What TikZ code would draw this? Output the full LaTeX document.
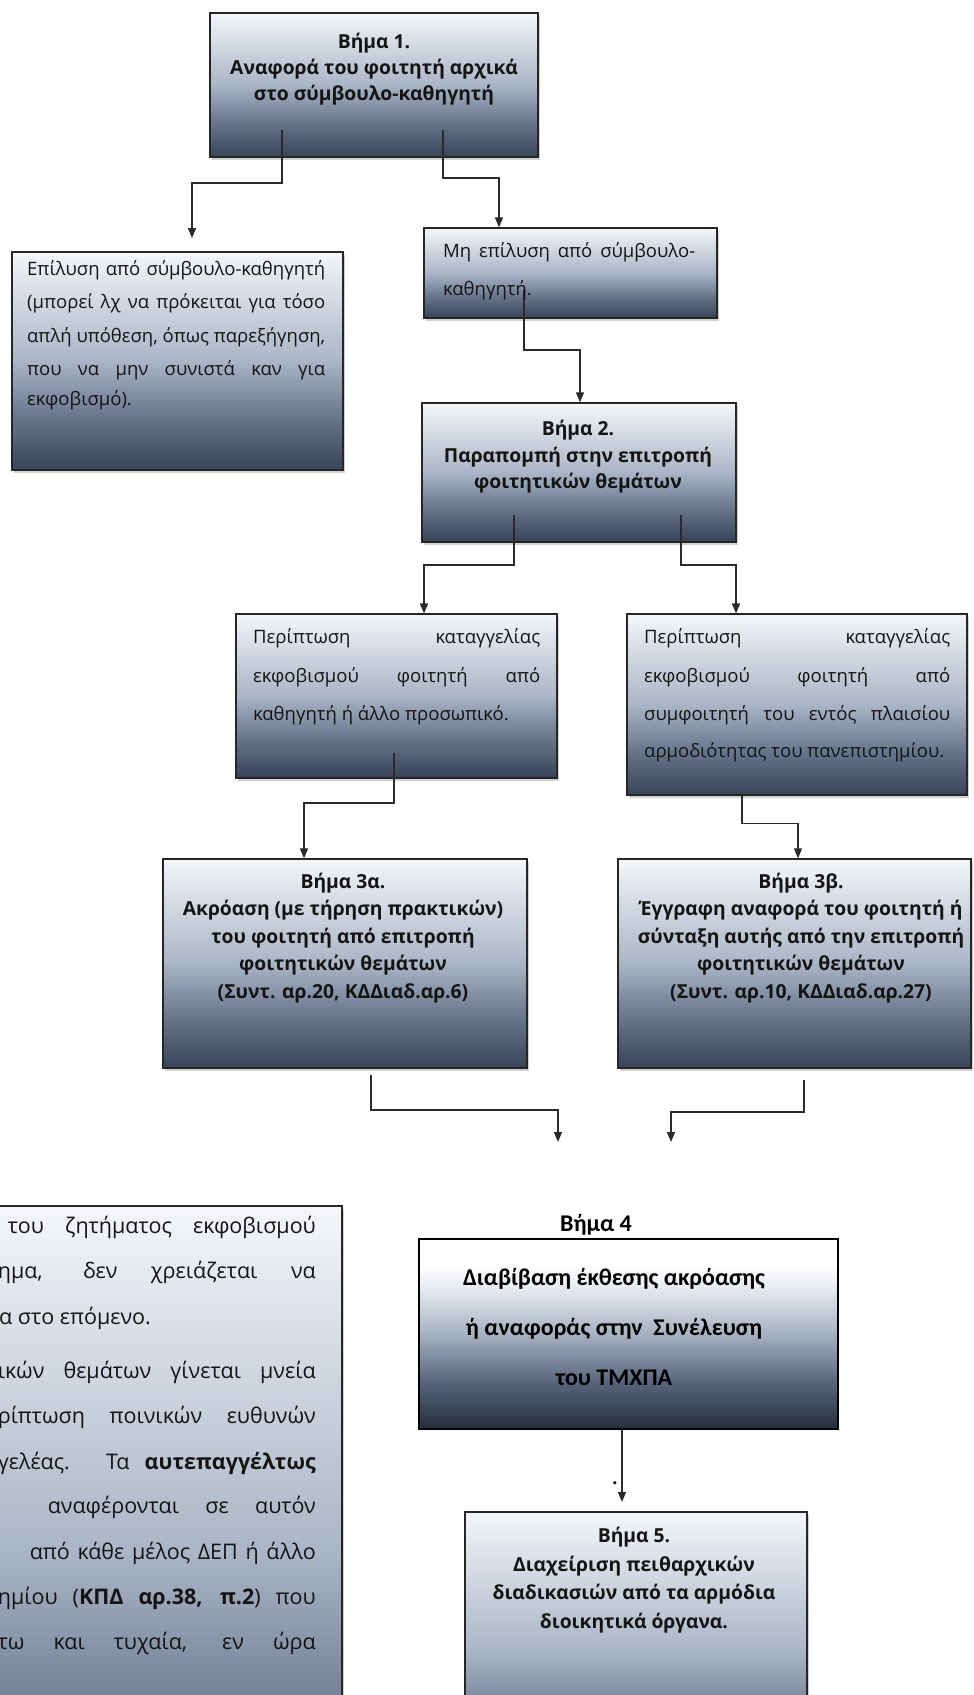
\documentclass[tikz,border=0pt]{standalone}
\usepackage{fontspec}
\usepackage{graphicx}
\setmainfont{Open Sans}
\newfontfamily\calfont{Carlito}
\usetikzlibrary{arrows.meta,shadows}

\definecolor{stop}{HTML}{F4F6F9}
\definecolor{smid}{HTML}{AAB5C6}
\definecolor{smid2}{HTML}{67758B}
\definecolor{sbot}{HTML}{374357}
\definecolor{fmid}{HTML}{A6B1C1}
\definecolor{fmid2}{HTML}{55637A}
\definecolor{fbot}{HTML}{252E3B}
\definecolor{fpale}{HTML}{E6EAF0}
\definecolor{bordc}{HTML}{262626}
\definecolor{linec}{HTML}{2A2A2A}
\definecolor{txtc}{HTML}{141414}

\pgfdeclareverticalshading{stepshade}{100bp}{color(0bp)=(sbot); color(25bp)=(sbot); color(37bp)=(smid2); color(50bp)=(smid); color(75bp)=(stop); color(100bp)=(stop)}
\pgfdeclareverticalshading{fourshade}{100bp}{color(0bp)=(fbot); color(25bp)=(fbot); color(37bp)=(fmid2); color(50bp)=(fmid); color(62bp)=(fpale); color(68bp)=(white); color(100bp)=(white)}

\newsavebox\linebox
\newcommand\fitw[2]{\sbox\linebox{#2}\ifdim\wd\linebox>#1\relax\resizebox{#1}{\height}{\usebox\linebox}\else\makebox[#1][s]{#2}\fi}

\tikzset{
  stepbox/.style={draw=bordc, line width=1.3pt, shading=stepshade, rectangle, inner sep=0pt,
    drop shadow={shadow xshift=2pt, shadow yshift=-2.5pt, opacity=0.18, fill=black}},
  fourbox/.style={draw=black, line width=2.4pt, shading=fourshade, rectangle, inner sep=0pt},
  conn/.style={draw=linec, line width=1.4pt, -{Triangle[width=8pt,length=10pt]}},
  btxt/.style={align=center, inner sep=0pt, text=txtc},
  boldtxt/.style={btxt, font=\fontsize{19.3}{#1}\selectfont\bfseries},
  rline/.style={anchor=base west, inner sep=0pt, text=txtc, font=\fontsize{18.5}{21}\selectfont},
  nline/.style={anchor=base east, inner sep=0pt, text=txtc, font=\fontsize{21.5}{24}\selectfont},
}

\begin{document}
\begin{tikzpicture}[x=1pt,y=-1pt]
\useasboundingbox (0,0) rectangle (974,1695);
\fill[white] (0,0) rectangle (974,1695);

% boxes
\node[stepbox, minimum width=328pt, minimum height=144pt] (b1) at (374,85) {};
\node[stepbox, minimum width=331pt, minimum height=218pt] (bL) at (177.5,361) {};
\node[stepbox, minimum width=293pt, minimum height=90pt] (bM) at (570.5,273) {};
\node[stepbox, minimum width=314pt, minimum height=139pt] (b2) at (579,472.5) {};
\node[stepbox, minimum width=321pt, minimum height=164pt] (b2a) at (396.5,696) {};
\node[stepbox, minimum width=340pt, minimum height=181pt] (b2b) at (797,704.5) {};
\node[stepbox, minimum width=364pt, minimum height=209pt] (b3a) at (345,963.5) {};
\node[stepbox, minimum width=353pt, minimum height=209pt] (b3b) at (794.5,963.5) {};
\node[stepbox, minimum width=372pt, minimum height=694pt] (bN) at (156,1553) {};
\node[fourbox, minimum width=419pt, minimum height=190pt] (b4) at (628.5,1334) {};
\node[stepbox, minimum width=342pt, minimum height=278pt] (b5) at (636,1651) {};

% connector points
\coordinate (s1) at (282,130);
\coordinate (s2) at (443,130);
\coordinate (s3) at (524,290);
\coordinate (s4) at (514,515);
\coordinate (s5) at (681,515);
\coordinate (s6) at (394,753);
\coordinate (x7) at (742,0);
\coordinate (s8) at (371,1075);
\coordinate (s9) at (804,1080);
\coordinate (x10) at (622,0);
\coordinate (e1) at (192,238);
\coordinate (x2) at (499,0);
\coordinate (x3) at (580,0);
\coordinate (x4) at (424,0);
\coordinate (x5) at (736,0);
\coordinate (x6) at (304,0);
\coordinate (x7e) at (798,0);
\coordinate (e8) at (558,1142);
\coordinate (e9) at (671,1142);
\coordinate (e10) at (622,1502);

\draw[conn] (s1) -- ++(0,53) -| (e1);
\draw[conn] (s2) -- ++(0,48) -| (x2 |- bM.north);
\draw[conn] (s3) -- ++(0,60) -| (x3 |- b2.north);
\draw[conn] (s4) -- ++(0,50) -| (x4 |- b2a.north);
\draw[conn] (s5) -- ++(0,50) -| (x5 |- b2b.north);
\draw[conn] (s6) -- ++(0,50) -| (x6 |- b3a.north);
\draw[conn] (x7 |- b2b.south) -- ++(0,28) -| (x7e |- b3b.north);
\draw[conn] (s8) -- ++(0,35) -| (e8);
\draw[conn] (s9) -- ++(0,32) -| (e9);
\draw[conn] (x10 |- b4.south) -- (e10);

% centred bold texts
\node[boldtxt=26] (t1) at (374,69)
  {Βήμα 1.\\Αναφορά του φοιτητή αρχικά\\στο σύμβουλο-καθηγητή};
\node[boldtxt=26.5] (t2) at (578,457)
  {Βήμα 2.\\Παραπομπή στην επιτροπή\\φοιτητικών θεμάτων};
\node[boldtxt=27.5] (t3a) at (343,938)
  {Βήμα 3α.\\Ακρόαση (με τήρηση πρακτικών)\\του φοιτητή από επιτροπή\\φοιτητικών θεμάτων\\(Συντ. αρ.20, ΚΔΔιαδ.αρ.6)};
\node[boldtxt=27.5] (t3b) at (801,938)
  {Βήμα 3β.\\Έγγραφη αναφορά του φοιτητή ή\\σύνταξη αυτής από την επιτροπή\\φοιτητικών θεμάτων\\(Συντ. αρ.10, ΚΔΔιαδ.αρ.27)};
\node[boldtxt=28.5] (t5) at (634,1580)
  {Βήμα 5.\\Διαχείριση πειθαρχικών\\διαδικασιών από τα αρμόδια\\διοικητικά όργανα.};
\node[btxt, font=\fontsize{24}{28}\calfont\bfseries, text=black] (l4) at (596,1225) {Βήμα 4};
\node[btxt, font=\fontsize{24}{50}\calfont\bfseries, text=black] (t4) at (614,1327)
  {Διαβίβαση έκθεσης ακρόασης\\ή αναφοράς στην\ \ Συνέλευση\\του ΤΜΧΠΑ};
\node[inner sep=0pt, font=\fontsize{18}{18}\selectfont\bfseries, text=black] (dot) at (615,1483) {.};

% justified regular texts
\node[rline] (L1) at (27,275) {\fitw{298pt}{Επίλυση από σύμβουλο-καθηγητή}};
\node[rline] (L2) at (27,308) {\fitw{298pt}{(μπορεί λχ να πρόκειται για τόσο}};
\node[rline] (L3) at (27,342) {\fitw{298pt}{απλή υπόθεση, όπως παρεξήγηση,}};
\node[rline] (L4) at (27,375) {\fitw{298pt}{που να μην συνιστά καν για}};
\node[rline] (L5) at (27,405) {εκφοβισμό).};

\node[rline] (M1) at (443,257) {\fitw{252pt}{Μη επίλυση από σύμβουλο-}};
\node[rline] (M2) at (443,295) {καθηγητή.};

\node[rline] (A1) at (253,643) {\fitw{287pt}{Περίπτωση καταγγελίας}};
\node[rline] (A2) at (253,682) {\fitw{287pt}{εκφοβισμού φοιτητή από}};
\node[rline] (A3) at (253,720) {καθηγητή ή άλλο προσωπικό.};

\node[rline] (B1) at (644,643) {\fitw{306pt}{Περίπτωση καταγγελίας}};
\node[rline] (B2) at (644,682) {\fitw{306pt}{εκφοβισμού φοιτητή από}};
\node[rline] (B3) at (644,720) {\fitw{306pt}{συμφοιτητή του εντός πλαισίου}};
\node[rline] (B4) at (644,757) {αρμοδιότητας του πανεπιστημίου.};

% cut-off text box, bottom left
\node[nline] (N1) at (316,1233) {\fitw{308pt}{του ζητήματος εκφοβισμού}};
\node[nline] (N2) at (316,1278) {\fitw{318pt}{ημα, δεν χρειάζεται να}};
\node[nline, anchor=base west] (N3) at (-1,1324) {α στο επόμενο.};
\node[nline] (N4) at (316,1378) {\fitw{318pt}{ικών θεμάτων γίνεται μνεία}};
\node[nline] (N5) at (316,1423) {\fitw{318pt}{ρίπτωση ποινικών ευθυνών}};
\node[nline] (N6) at (316,1469) {\fitw{318pt}{γελέας. Τα \textbf{αυτεπαγγέλτως}}};
\node[nline] (N7) at (316,1513) {\fitw{268pt}{αναφέρονται σε αυτόν}};
\node[nline] (N8) at (316,1559) {\fitw{286pt}{από κάθε μέλος ΔΕΠ ή άλλο}};
\node[nline] (N9) at (316,1604) {\fitw{318pt}{ημίου (\textbf{ΚΠΔ αρ.38, π.2}) που}};
\node[nline] (N10) at (316,1649) {\fitw{318pt}{τω και τυχαία, εν ώρα}};
\end{tikzpicture}
\end{document}
